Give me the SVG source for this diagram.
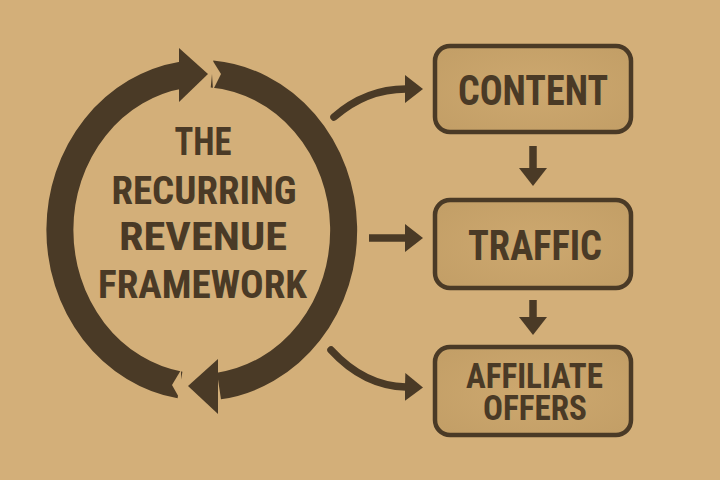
<svg xmlns="http://www.w3.org/2000/svg" width="720" height="480" viewBox="0 0 720 480">
  <style>
    .ink { fill: #4a3a26; }
    .arc { fill: none; stroke: #4a3a26; stroke-width: 27; }
    .bg { fill: #d3af79; }
    .box { stroke: #4a3a26; stroke-width: 4.5; fill: url(#boxg); }
    .conn { fill: none; stroke: #4a3a26; stroke-width: 7.5; stroke-linecap: round; }
    .t { font-family: "Roboto Condensed", "Liberation Sans Narrow", "DejaVu Sans Condensed", "Liberation Sans", sans-serif; font-weight: bold; font-stretch: condensed; fill: #4a3a26; text-anchor: middle; }
  </style>
  <defs>
    <marker id="ah" markerUnits="userSpaceOnUse" viewBox="0 0 18 28" markerWidth="18" markerHeight="28" refX="1" refY="14" orient="auto">
      <path d="M0,0 L18,14 L0,28 Z" fill="#4a3a26"/>
    </marker>
    <radialGradient id="boxg" cx="0.5" cy="0.5" r="0.7">
      <stop offset="0" stop-color="#cda86f"/>
      <stop offset="1" stop-color="#c29e66"/>
    </radialGradient>
  </defs>
  <rect x="0" y="0" width="720" height="480" class="bg"/>

  <g id="cycle">
    <path class="arc" d="M 180 385 A 144 157 0 0 1 182 75"/>
    <polygon class="ink" points="179,48 208,74 179,102"/>
    <path class="arc" d="M 212 74 A 144 157 0 0 1 219 386"/>
    <polygon class="ink" points="218,359 188,386 218,414"/>
    <polygon class="bg" points="211,58 221,74 213,90"/>
    <polygon class="bg" points="181,370 172,385 181,401"/>
    <text class="t" x="203" y="155" font-size="39" textLength="57" lengthAdjust="spacingAndGlyphs">THE</text>
    <text class="t" x="204" y="204" font-size="38" textLength="185" lengthAdjust="spacingAndGlyphs">RECURRING</text>
    <text class="t" x="203" y="250" font-size="39" textLength="168" lengthAdjust="spacingAndGlyphs">REVENUE</text>
    <text class="t" x="202.5" y="298" font-size="39" textLength="209" lengthAdjust="spacingAndGlyphs">FRAMEWORK</text>
  </g>

  <g id="content">
    <rect class="box" x="435" y="46" width="196" height="86" rx="15"/>
    <text class="t" x="533" y="105" font-size="42" textLength="150" lengthAdjust="spacingAndGlyphs">CONTENT</text>
  </g>

  <g id="traffic">
    <rect class="box" x="435" y="200" width="196" height="88" rx="15"/>
    <text class="t" x="535" y="260" font-size="43" textLength="134" lengthAdjust="spacingAndGlyphs">TRAFFIC</text>
  </g>

  <g id="affiliate">
    <rect class="box" x="435" y="347" width="196" height="88" rx="15"/>
    <text class="t" font-size="35"><tspan x="534.5" y="388" textLength="137" lengthAdjust="spacingAndGlyphs">AFFILIATE</tspan><tspan x="535" y="420" textLength="104" lengthAdjust="spacingAndGlyphs">OFFERS</tspan></text>
  </g>

  <g id="connectors">
    <path class="conn" d="M 334 117 Q 366 89 406 89" marker-end="url(#ah)"/>
    <path class="conn" d="M 369 238 L 406 238" marker-end="url(#ah)" style="stroke-linecap:butt"/>
    <path class="conn" d="M 331 350 Q 364 386 406 387" marker-end="url(#ah)"/>
    <path class="conn" d="M 533 146 L 533 169" marker-end="url(#ah)" style="stroke-linecap:butt"/>
    <path class="conn" d="M 533 300 L 533 318" marker-end="url(#ah)" style="stroke-linecap:butt"/>
  </g>
</svg>
